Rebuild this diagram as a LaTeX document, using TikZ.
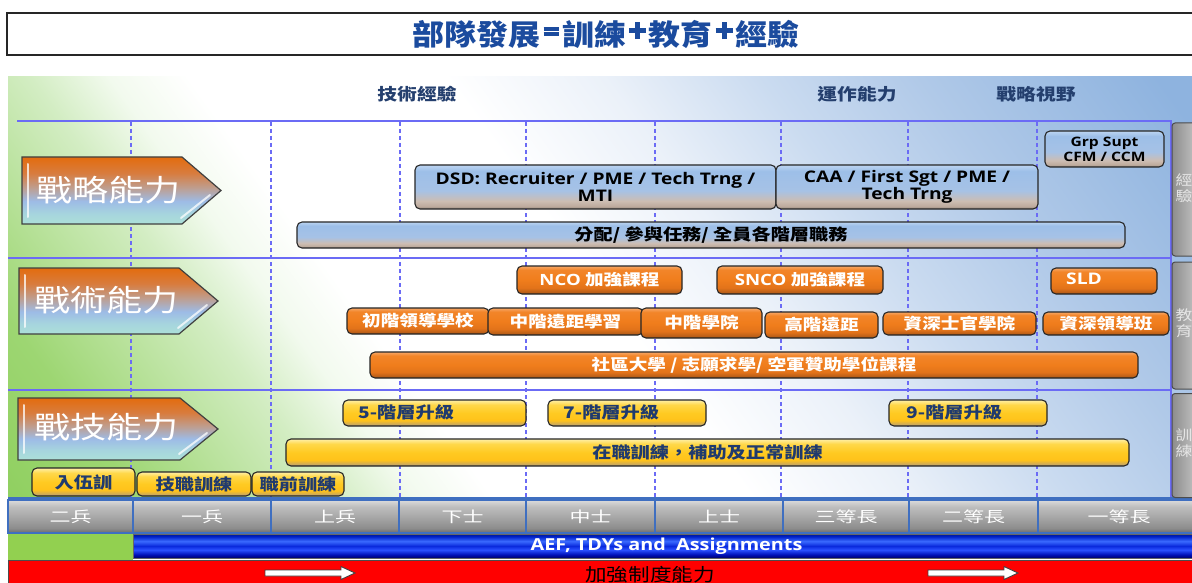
\documentclass[tikz,border=0pt]{standalone}
\usepackage{fontspec}
\setmainfont{Noto Sans CJK TC}[FakeStretch=1.2]
\newfontfamily\titlefont{Noto Sans CJK TC}[FakeStretch=1.1]
\newfontfamily\lat{Open Sans}[FakeStretch=1.2]
\newfontfamily\rankfont{Noto Sans CJK TC}[FakeStretch=1.4]
\newcommand\fsz[2]{\fontsize{#1}{#2}\selectfont}
\newcommand\teq{\kern3.5pt\rlap{\raisebox{15pt}{\rule{15pt}{4pt}}}\raisebox{10pt}{\rule{15pt}{4pt}}\kern3.5pt}
\newcommand\tplus{\kern3pt\rlap{\raisebox{12.5pt}{\rule{17pt}{5pt}}}\kern6pt\raisebox{6.5pt}{\rule{5pt}{17pt}}\kern6pt\kern3pt}

\definecolor{titleblue}{HTML}{1B4B9E}
\definecolor{hdrblue}{HTML}{243F6E}
\definecolor{gridblue}{HTML}{6B6BF5}
\definecolor{txtblue}{HTML}{1F3A6E}
\definecolor{bgG1}{HTML}{8FCF5F}
\definecolor{bgG2}{HTML}{9DD672}
\definecolor{bgG3}{HTML}{D3EDC3}
\definecolor{bgG4}{HTML}{F2FAEE}
\definecolor{bgB1}{HTML}{EBF1F9}
\definecolor{bgB2}{HTML}{CADBF0}
\definecolor{bgB3}{HTML}{B0C9E8}
\definecolor{bgB4}{HTML}{8EB3DF}
\definecolor{bB0}{HTML}{8A7F78}
\definecolor{bB1}{HTML}{BDAA9C}
\definecolor{bB2}{HTML}{CDBDB2}
\definecolor{bB3}{HTML}{A6C2E6}
\definecolor{bB4}{HTML}{9DBFE8}
\definecolor{bB5}{HTML}{BDD5F2}
\definecolor{oB0}{HTML}{7A4010}
\definecolor{oB1}{HTML}{B85E18}
\definecolor{oB2}{HTML}{E2731A}
\definecolor{oB3}{HTML}{F07D1C}
\definecolor{oB4}{HTML}{F28529}
\definecolor{oB5}{HTML}{F7A868}
\definecolor{yB0}{HTML}{8E7E5C}
\definecolor{yB1}{HTML}{C8A860}
\definecolor{yB2}{HTML}{FFC21A}
\definecolor{yB3}{HTML}{FFCA22}
\definecolor{yB4}{HTML}{FFD84A}
\definecolor{yB5}{HTML}{FFF0A8}
\definecolor{cB0}{HTML}{ACE0D8}
\definecolor{cB1}{HTML}{A6D4DE}
\definecolor{cB2}{HTML}{9DBBE6}
\definecolor{cB3}{HTML}{BE9E90}
\definecolor{cB4}{HTML}{D87C3E}
\definecolor{cB5}{HTML}{E36C0E}
\definecolor{gR0}{HTML}{6A6A6A}
\definecolor{gR1}{HTML}{8C8C8C}
\definecolor{gR2}{HTML}{A8A8A8}
\definecolor{gR3}{HTML}{BEBEBE}
\definecolor{gR4}{HTML}{DCDCDC}
\definecolor{aB0}{HTML}{00006A}
\definecolor{aB1}{HTML}{0010B8}
\definecolor{aB2}{HTML}{2A50FF}
\definecolor{aB3}{HTML}{0A2ADD}
\definecolor{aB4}{HTML}{3A6AFF}
\definecolor{aB5}{HTML}{0020C8}
\definecolor{aB6}{HTML}{001890}
\definecolor{grn}{HTML}{92D050}
\definecolor{cellline}{HTML}{3F6FC0}

\pgfdeclarehorizontalshading{bgshade}{100bp}{color(0bp)=(bgG1); color(31bp)=(bgG1); color(34.5bp)=(bgG2); color(39.5bp)=(bgG3); color(41.5bp)=(bgG4); color(43.5bp)=(white); color(50bp)=(white); color(54bp)=(bgB1); color(58bp)=(bgB2); color(62bp)=(bgB3); color(68bp)=(bgB4); color(100bp)=(bgB4)}
\pgfdeclareverticalshading{blueshade}{100bp}{color(0bp)=(bB0); color(25bp)=(bB0); color(28bp)=(bB1); color(34bp)=(bB2); color(46bp)=(bB3); color(68bp)=(bB4); color(75bp)=(bB5); color(100bp)=(bB5)}
\pgfdeclareverticalshading{orangeshade}{100bp}{color(0bp)=(oB0); color(25bp)=(oB0); color(28bp)=(oB1); color(36bp)=(oB2); color(50bp)=(oB3); color(68bp)=(oB4); color(75bp)=(oB5); color(100bp)=(oB5)}
\pgfdeclareverticalshading{yellowshade}{100bp}{color(0bp)=(yB0); color(25bp)=(yB0); color(28bp)=(yB1); color(36bp)=(yB2); color(50bp)=(yB3); color(66bp)=(yB4); color(75bp)=(yB5); color(100bp)=(yB5)}
\pgfdeclareverticalshading{chevshade}{100bp}{color(0bp)=(cB0); color(25bp)=(cB0); color(33bp)=(cB1); color(42bp)=(cB2); color(52bp)=(cB3); color(63bp)=(cB4); color(75bp)=(cB5); color(100bp)=(cB5)}
\pgfdeclareverticalshading{grayshade}{100bp}{color(0bp)=(gR0); color(25bp)=(gR0); color(32bp)=(gR1); color(50bp)=(gR2); color(65bp)=(gR3); color(75bp)=(gR4); color(100bp)=(gR4)}
\pgfdeclareverticalshading{aefshade}{100bp}{color(0bp)=(aB0); color(25bp)=(aB0); color(32bp)=(aB1); color(42bp)=(aB2); color(50bp)=(aB3); color(60bp)=(aB4); color(70bp)=(aB5); color(75bp)=(aB6); color(100bp)=(aB6)}

\newcommand\mybox[7]{%
  \pgfmathsetmacro\mbw{#5-#3}\pgfmathsetmacro\mbh{#6-#4}%
  \pgfmathsetmacro\mbx{(#3+#5)/2}\pgfmathsetmacro\mby{(#4+#6)/2}%
  \node[#2, minimum width=\mbw pt, minimum height=\mbh pt] (#1) at (\mbx,\mby) {#7};}

\tikzset{
  pill/.style={draw=black!85, line width=1.1pt, rounded corners=5pt, inner sep=0pt, shade},
  pillB/.style={pill, shading=blueshade, text=black, align=center, font=\lat\bfseries\fsz{16}{13}},
  pillO/.style={pill, shading=orangeshade, text=white, font=\bfseries\fsz{15.5}{16}},
  pillY/.style={pill, shading=yellowshade, text=txtblue, font=\bfseries\fsz{16}{16}},
  ytext/.style={text=txtblue, font=\bfseries\fsz{16}{16}, inner sep=0pt, anchor=west},
  otext/.style={text=white, font=\lat\bfseries\fsz{16}{16}, inner sep=0pt},
  chev/.style={draw=black!75, line width=1.2pt, shade, shading=chevshade},
  chevtext/.style={text=white, font=\fsz{30}{30}, inner sep=0pt, anchor=west},
  gloss/.style={white, opacity=.75, line width=2pt, line cap=round},
  hdr/.style={text=hdrblue, font=\bfseries\fsz{16.5}{17}, inner sep=0pt},
  gridd/.style={gridblue, line width=1.1pt, dash pattern=on 4pt off 3pt},
  grids/.style={gridblue, line width=2pt},
  gstrip/.style={draw=black!70, line width=1pt, rounded corners=3pt, left color=black!45, right color=black!15, inner sep=0pt},
  striptext/.style={text=black!10, align=center, font=\fsz{14}{16}, inner sep=0pt},
  rankc/.style={draw=cellline, line width=1.2pt, shade, shading=grayshade, text=white, font=\rankfont\fsz{15}{15}, inner sep=0pt},
  aefbar/.style={draw=black!60, line width=.8pt, shade, shading=aefshade, text=white, font=\lat\bfseries\fsz{16.5}{17}, inner sep=0pt},
  redbar/.style={draw=black!70, line width=1pt, fill=red, inner sep=0pt},
  warrowp/.style={draw=black!75, line width=.9pt, fill=white, line join=miter}
}

\begin{document}
\begin{tikzpicture}[x=1pt, y=-1pt]
\useasboundingbox (0,0) rectangle (1192,583);
\fill[white] (0,0) rectangle (1192,583);

% title
\draw[black!85, line width=2pt] (7,13) rectangle (1210,55);
\node[text=titleblue, font=\titlefont\bfseries\fsz{29}{29}, inner sep=0pt] (title) at (606,34.5) {部隊發展\teq 訓練\tplus 教育\tplus 經驗};

% background panel
\begin{scope}
  \clip (8,77) rectangle (1192,498);
  \shade[shading=bgshade, transform canvas={rotate around={36:(600,290)}}] (-200,-510) rectangle (1400,1090);
\end{scope}

% grid
\foreach \x in {131,271,400,526,655,781,908,1037}
  \draw[gridd] (\x,122) -- (\x,497);
\draw[grids] (17,121) -- (1172,121);
\draw[grids] (8,258) -- (1172,258);
\draw[grids] (8,390) -- (1172,390);
\draw[grids] (1171,121) -- (1171,497);
\draw[cellline, line width=1.5pt] (8,498) -- (1192,498);

% right gray strips
\node[gstrip, minimum width=34pt, minimum height=133pt] (gs1) at (1189,189.5) {};
\node[striptext] (gs1t) at (1184,188) {經\\驗};
\node[gstrip, minimum width=34pt, minimum height=127pt] (gs2) at (1189,325.5) {};
\node[striptext] (gs2t) at (1184,323) {教\\育};
\node[gstrip, minimum width=34pt, minimum height=104pt] (gs3) at (1189,445.5) {};
\node[striptext] (gs3t) at (1184,443) {訓\\練};

% header labels
\node[hdr] (h1) at (417,94) {技術經驗};
\node[hdr] (h2) at (857,94) {運作能力};
\node[hdr] (h3) at (1036,94) {戰略視野};

% chevrons
\draw[chev] (22,157) -- (182,157) -- (221,190.5) -- (182,224) -- (22,224) -- cycle;
\draw[gloss] (28,164) -- (28,217);
\draw[gloss] (181,218) -- (210,195);
\node[chevtext] (c1) at (36,190) {戰略能力};

\draw[chev] (19,268) -- (179,268) -- (218,301) -- (179,334) -- (19,334) -- cycle;
\draw[gloss] (25,275) -- (25,327);
\draw[gloss] (178,328) -- (207,305);
\node[chevtext] (c2) at (34,300) {戰術能力};

\draw[chev] (18,398) -- (180,398) -- (218,429) -- (180,460) -- (18,460) -- cycle;
\draw[gloss] (24,405) -- (24,453);
\draw[gloss] (179,454) -- (207,433);
\node[chevtext] (c3) at (34,427) {戰技能力};

% row 1 boxes
\mybox{dsd}{pillB}{415}{165}{776}{209}{DSD: Recruiter / PME / Tech Trng /\\MTI}
\mybox{caa}{pillB}{776}{165}{1038}{209}{CAA / First Sgt / PME /\\Tech Trng}
\mybox{grp}{pillB, font=\lat\bfseries\fsz{13}{15}}{1045}{131}{1164}{167}{Grp Supt\\CFM / CCM}
\mybox{fp}{pillB, font=\bfseries\fsz{16}{16}}{297}{222}{1125}{248}{分配/ 參與任務/ 全員各階層職務}

% row 2 boxes
\mybox{nco}{pillO}{517}{266}{682}{294}{{\lat NCO} 加強課程}
\mybox{snco}{pillO}{717}{266}{883}{294}{{\lat SNCO} 加強課程}
\mybox{sld}{pillO}{1051}{268}{1157}{294}{}
\node[otext] (sldt) at (1084,279) {SLD};
\mybox{b1}{pillO}{347}{308}{489}{334}{初階領導學校}
\mybox{b2}{pillO}{488}{308}{643}{335}{中階遠距學習}
\mybox{b3}{pillO}{641}{308}{762}{338}{中階學院}
\mybox{b4}{pillO}{765}{312}{878}{338}{高階遠距}
\mybox{b5}{pillO}{883}{312}{1036}{335}{資深士官學院}
\mybox{b6}{pillO}{1043}{312}{1169}{335}{資深領導班}
\mybox{cc}{pillO}{370}{352}{1138}{378}{社區大學 / 志願求學/ 空軍贊助學位課程}

% row 3 boxes
\mybox{u5}{pillY}{343}{400}{526}{426}{}
\node[ytext] (u5t) at (358,412) {5-階層升級};
\mybox{u7}{pillY}{548}{400}{706}{426}{}
\node[ytext] (u7t) at (563,412) {7-階層升級};
\mybox{u9}{pillY}{889}{400}{1047}{426}{}
\node[ytext] (u9t) at (906,412) {9-階層升級};
\mybox{ojt}{pillY}{286}{439}{1129}{466}{在職訓練，補助及正常訓練}
\mybox{ru}{pillY}{32}{468}{135}{496}{入伍訓}
\mybox{jz}{pillY}{137}{472}{251}{496}{技職訓練}
\mybox{zq}{pillY}{252}{472}{344}{496}{職前訓練}

% rank bar
\foreach \a/\b/\t/\n in {8/133/二兵/r1, 133/271/一兵/r2, 271/399/上兵/r3, 399/526/下士/r4, 526/655/中士/r5, 655/783/上士/r6, 783/909/三等長/r7, 909/1038/二等長/r8, 1038/1200/一等長/r9}
  {\mybox{\n}{rankc}{\a}{500}{\b}{533}{\t}}

% AEF bar and green box
\mybox{grnbox}{fill=grn, inner sep=0pt}{8}{534}{133}{560}{}
\mybox{aef}{aefbar}{133}{534}{1200}{558}{AEF, TDYs and\ \ Assignments}

% red bar
\mybox{redb}{redbar}{8}{560}{1200}{596}{}
\node[text=black, font=\fsz{18}{18}, inner sep=0pt] (redt) at (650,575) {加強制度能力};
\draw[warrowp] (265,570) -- (341,570) -- (341,566.5) -- (355,573) -- (341,579.5) -- (341,576) -- (265,576) -- cycle;
\draw[warrowp] (928,570) -- (1004,570) -- (1004,566.5) -- (1018,573) -- (1004,579.5) -- (1004,576) -- (928,576) -- cycle;
\end{tikzpicture}
\end{document}
